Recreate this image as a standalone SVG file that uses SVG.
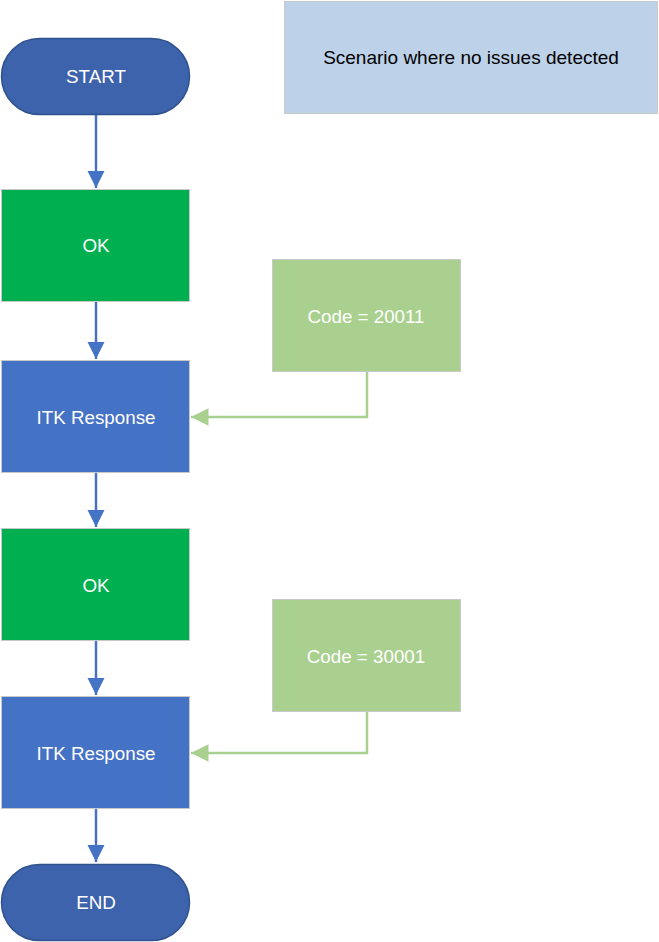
<svg xmlns="http://www.w3.org/2000/svg" width="659" height="942" viewBox="0 0 659 942">
<defs>
<style>
.term{fill:#3D63AC;stroke:#2F528F;stroke-width:1.5}
.ok{fill:#00B050;stroke:#C9C9C9;stroke-width:1}
.itk{fill:#4472C4;stroke:#C9C9C9;stroke-width:1}
.code{fill:#A9D08E;stroke:#C9C9C9;stroke-width:1}
.note{fill:#BDD1E9;stroke:#C9C9C9;stroke-width:1}
.lbl{font-family:"Liberation Sans",Arial,sans-serif;font-size:18.8px;fill:#FFFFFF;text-anchor:middle;dominant-baseline:central}
.dark{fill:#000000;font-size:19px}
.blue{fill:none;stroke:#4472C4;stroke-width:2.5}
.green{fill:none;stroke:#A9D08E;stroke-width:2.5}
</style>
<marker id="ab" markerWidth="8" markerHeight="7" refX="7" refY="3.5" orient="auto" markerUnits="strokeWidth"><path d="M0,0 L7,3.5 L0,7 Z" fill="#4472C4"/></marker>
<marker id="ag" markerWidth="8" markerHeight="7" refX="7" refY="3.5" orient="auto" markerUnits="strokeWidth"><path d="M0,0 L7,3.5 L0,7 Z" fill="#A9D08E"/></marker>
</defs>
<g id="connectors">
<path class="blue" d="M96,115 V188" marker-end="url(#ab)"/>
<path class="blue" d="M96,301 V359" marker-end="url(#ab)"/>
<path class="blue" d="M96,472 V527" marker-end="url(#ab)"/>
<path class="blue" d="M96,640 V695" marker-end="url(#ab)"/>
<path class="blue" d="M96,808 V862" marker-end="url(#ab)"/>
<path class="green" d="M367,372 V417 H191" marker-end="url(#ag)"/>
<path class="green" d="M367,712 V753 H191" marker-end="url(#ag)"/>
</g>
<g id="note"><rect class="note" x="284.5" y="1.5" width="373" height="112"/><text class="lbl dark" x="471" y="57">Scenario where no issues detected</text></g>
<g id="start"><rect class="term" x="1.5" y="38.5" width="188" height="76" rx="38" ry="38"/><text class="lbl" x="96" y="76">START</text></g>
<g id="ok1"><rect class="ok" x="1.5" y="189.5" width="188" height="112"/><text class="lbl" x="96" y="245">OK</text></g>
<g id="itk1"><rect class="itk" x="1.5" y="360.5" width="188" height="112"/><text class="lbl" x="96" y="417">ITK Response</text></g>
<g id="ok2"><rect class="ok" x="1.5" y="528.5" width="188" height="112"/><text class="lbl" x="96" y="585">OK</text></g>
<g id="itk2"><rect class="itk" x="1.5" y="696.5" width="188" height="112"/><text class="lbl" x="96" y="753">ITK Response</text></g>
<g id="end"><rect class="term" x="1.5" y="864.5" width="188" height="76" rx="38" ry="38"/><text class="lbl" x="96" y="902">END</text></g>
<g id="code1"><rect class="code" x="272.5" y="259.5" width="188" height="112"/><text class="lbl" x="366" y="316">Code = 20011</text></g>
<g id="code2"><rect class="code" x="272.5" y="599.5" width="188" height="112"/><text class="lbl" x="366" y="656">Code = 30001</text></g>
</svg>
